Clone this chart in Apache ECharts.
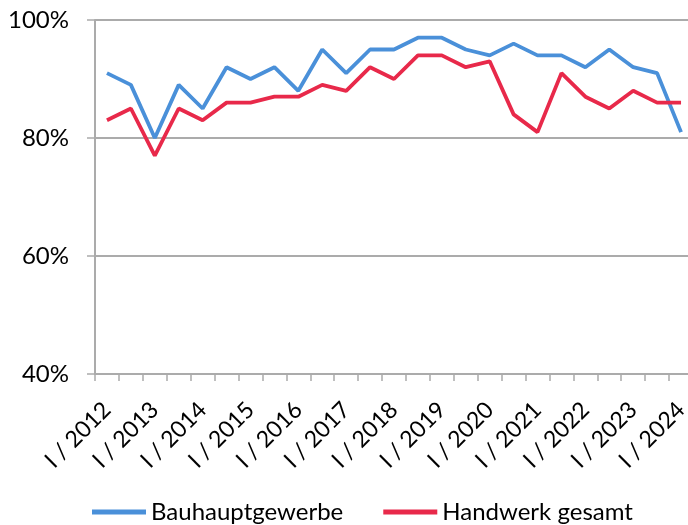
<!DOCTYPE html>
<html>
<head>
<meta charset="utf-8">
<script src="https://cdn.jsdelivr.net/npm/echarts@6/dist/echarts.min.js"></script>
<style>
  html, body { margin: 0; padding: 0; background: #fff; }
  #main { width: 688px; height: 525px; }
</style>
</head>
<body>
<div id="main"></div>
<script>
// Halbjahre I/2012 bis I/2024
var categories = [
  'I / 2012', 'II / 2012', 'I / 2013', 'II / 2013', 'I / 2014', 'II / 2014',
  'I / 2015', 'II / 2015', 'I / 2016', 'II / 2016', 'I / 2017', 'II / 2017',
  'I / 2018', 'II / 2018', 'I / 2019', 'II / 2019', 'I / 2020', 'II / 2020',
  'I / 2021', 'II / 2021', 'I / 2022', 'II / 2022', 'I / 2023', 'II / 2023',
  'I / 2024'
];
var bauhauptgewerbe = [91, 89, 80, 89, 85, 92, 90, 92, 88, 95, 91, 95, 95, 97, 97, 95, 94, 96, 94, 94, 92, 95, 92, 91, 81];
var handwerkGesamt = [83, 85, 77, 85, 83, 86, 86, 87, 87, 89, 88, 92, 90, 94, 94, 92, 93, 84, 81, 91, 87, 85, 88, 86, 86];
var yTicks = [40, 60, 80, 100];

var myChart = echarts.init(document.getElementById('main'));
var font = 'Lato, "Open Sans", sans-serif';
var gray = '#ababab';

var option = {
  animation: false,
  grid: { left: 95, top: 20, width: 598, height: 354, containLabel: false, outerBoundsMode: 'none' },
  xAxis: {
    type: 'category',
    data: categories,
    boundaryGap: true,
    axisLine: { lineStyle: { color: gray, width: 2 } },
    axisTick: { show: true, interval: 0, length: 7, lineStyle: { color: gray, width: 1.5 } },
    axisLabel: {
      interval: 1,
      rotate: 45,
      color: '#000',
      fontSize: 23,
      fontFamily: font,
      margin: 32
    },
    splitLine: { show: false }
  },
  yAxis: {
    type: 'value',
    min: yTicks[0],
    max: yTicks[yTicks.length - 1],
    interval: 20,
    axisLine: { show: true, lineStyle: { color: gray, width: 2 } },
    axisTick: { show: true, length: 8, lineStyle: { color: gray, width: 1.5 } },
    axisLabel: {
      formatter: '{value}%',
      color: '#000',
      fontSize: 24,
      fontFamily: font,
      margin: 26
    },
    splitLine: { show: true, lineStyle: { color: gray, width: 2 } }
  },
  legend: {
    top: 495,
    left: 87,
    icon: 'rect',
    itemWidth: 54,
    itemHeight: 5,
    itemGap: 40,
    textStyle: { color: '#000', fontSize: 24, fontFamily: font },
    data: ['Bauhauptgewerbe', 'Handwerk gesamt']
  },
  series: [
    {
      name: 'Bauhauptgewerbe',
      type: 'line',
      data: bauhauptgewerbe,
      showSymbol: false,
      lineStyle: { color: '#4a90d9', width: 3.8 },
      itemStyle: { color: '#4a90d9' }
    },
    {
      name: 'Handwerk gesamt',
      type: 'line',
      data: handwerkGesamt,
      showSymbol: false,
      lineStyle: { color: '#e8294a', width: 3.8 },
      itemStyle: { color: '#e8294a' }
    }
  ]
};
myChart.setOption(option);
</script>
</body>
</html>
